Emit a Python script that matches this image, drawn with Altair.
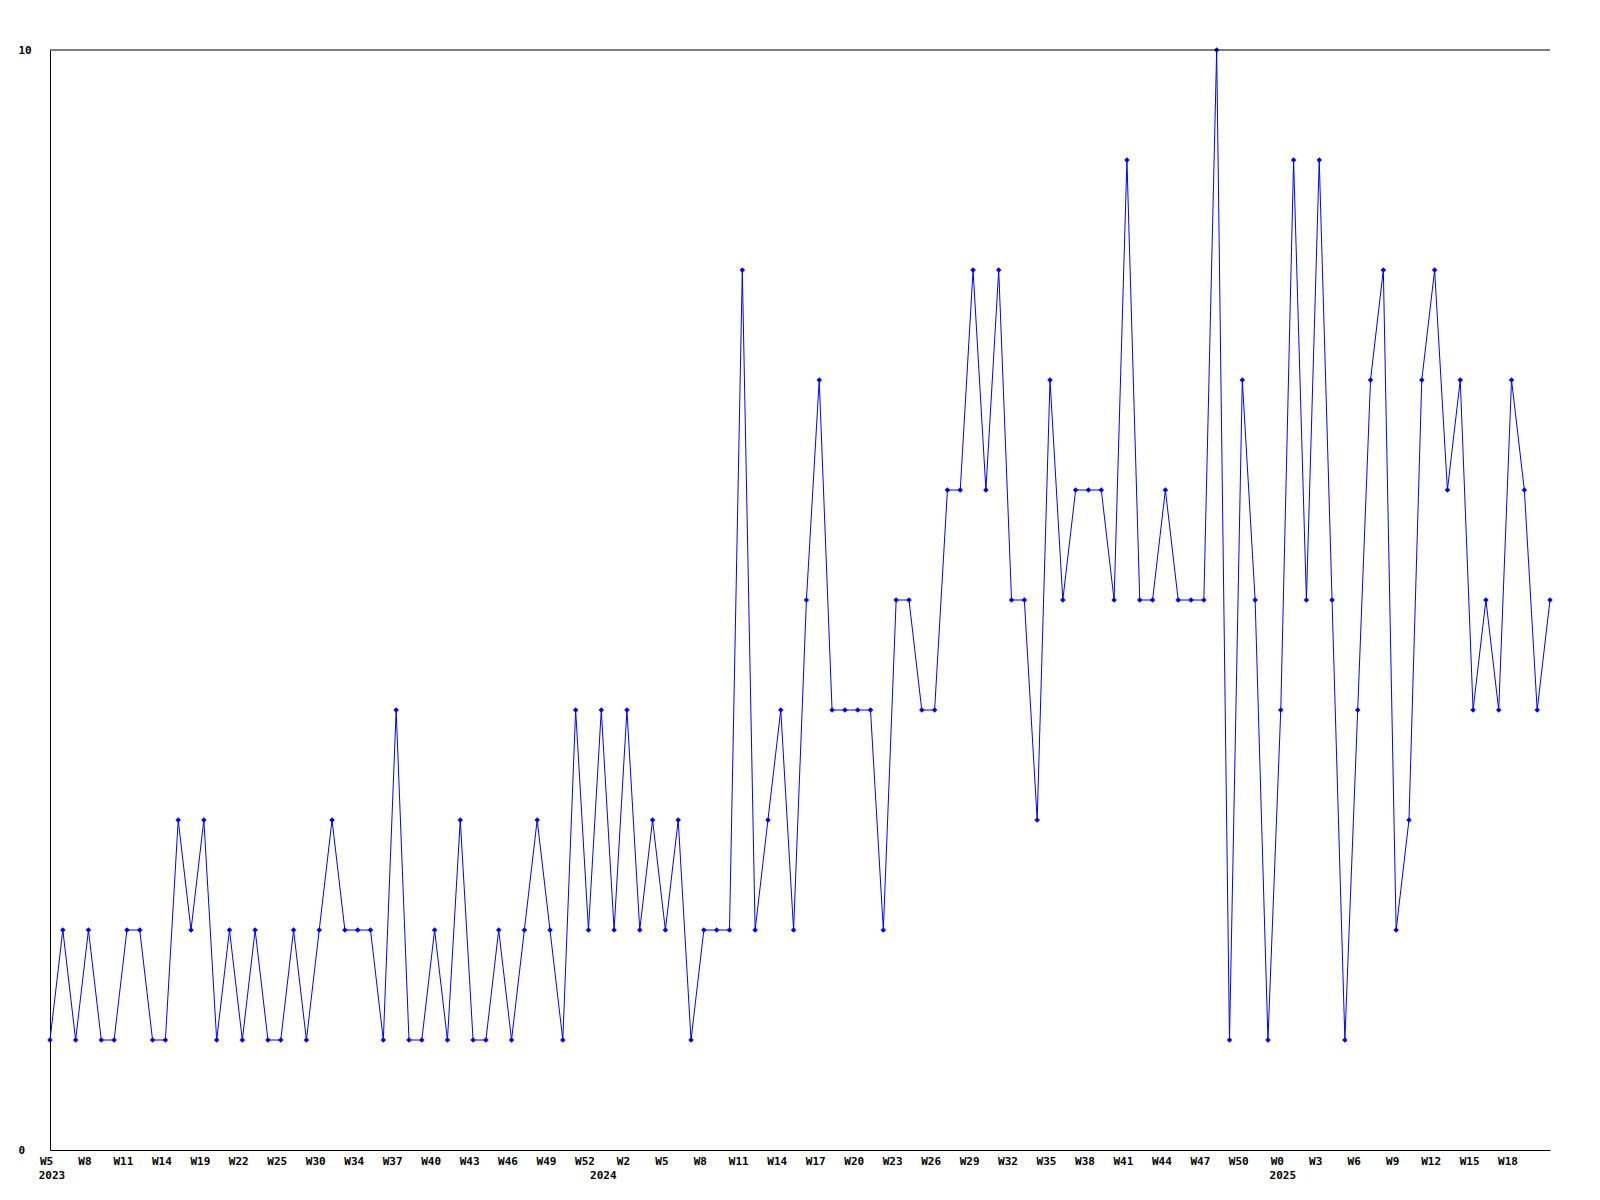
import altair as alt
import pandas as pd

# ---- data ----
weeks_2023 = ["W5", "W6", "W7", "W8", "W9", "W10", "W11", "W12", "W13", "W14", "W15", "W17",
              "W19", "W20", "W21", "W22", "W23", "W24", "W25", "W26", "W28", "W30", "W31", "W32",
              "W34", "W35", "W36", "W37", "W38", "W39", "W40", "W41", "W42", "W43", "W44", "W45",
              "W46", "W47", "W48", "W49", "W50", "W51", "W52"]
values_2023 = [1, 2, 1, 2, 1, 1, 2, 2, 1, 1,
               3, 2, 3, 1, 2, 1, 2, 1, 1, 2,
               1, 2, 3, 2, 2, 2, 1, 4, 1, 1,
               2, 1, 3, 1, 1, 2, 1, 2, 3, 2,
               1, 4, 2]

weeks_2024 = ["W%d" % w for w in range(0, 53)]
values_2024 = [4, 2, 4, 2, 3, 2, 3,
               1, 2, 2, 2, 8, 2, 3, 4, 2, 5,
               7, 4, 4, 4, 4, 2, 5, 5, 4, 4,
               6, 6, 8, 6, 8, 5, 5, 3, 7, 5,
               6, 6, 6, 5, 9, 5, 5, 6, 5, 5,
               5, 10, 1, 7, 5, 1]

weeks_2025 = ["W%d" % w for w in range(0, 22)]
values_2025 = [4, 9, 5, 9, 5, 1, 4, 7, 8, 2, 3, 7, 8, 6, 7, 4, 5, 4, 7, 6, 4, 5]

years = ["2023", "2024", "2025"]
y_tick_values = [0, 10]

# ---- build table ----
rows = []
for yr, wk, vals in zip(years, [weeks_2023, weeks_2024, weeks_2025],
                        [values_2023, values_2024, values_2025]):
    for w, v in zip(wk, vals):
        rows.append({"key": yr + "|" + w, "week": w, "year": yr, "value": v})
df = pd.DataFrame(rows)
keys = list(df["key"])
tick_keys = keys[:-1:3]   # every third week is labelled, last point unlabelled

year_df = pd.DataFrame({
    "key": [yr + "|" + wk[0] for yr, wk in zip(years, [weeks_2023, weeks_2024, weeks_2025])],
    "year": years,
})

FONT = "DejaVu Sans Mono"
W, H = 1500, 1100
BLUE = "#0000ff"

x_enc = alt.X(
    "key:N", sort=keys,
    scale=alt.Scale(type="point", padding=0),
    axis=alt.Axis(
        values=tick_keys, labelExpr="split(datum.value, '|')[1]", labelAngle=0,
        ticks=False, grid=False, title=None, labelOverlap=False,
        labelFont=FONT, labelFontSize=11, labelFontWeight="bold", labelColor="black",
        labelPadding=5, labelBaseline="top", labelOffset=-4,
        domainColor="black", domainWidth=1,
    ),
)
y_enc = alt.Y(
    "value:Q",
    scale=alt.Scale(domain=[0, 10], nice=False, zero=True),
    axis=alt.Axis(
        values=y_tick_values, format="d", ticks=False, grid=False, title=None,
        labelAlign="left", labelPadding=32, labelBaseline="middle", labelFlush=False,
        labelFont=FONT, labelFontSize=11, labelFontWeight="bold", labelColor="black",
        domainColor="black", domainWidth=1,
    ),
)

base = alt.Chart(df)
line = base.mark_line(color=BLUE, strokeWidth=1).encode(x=x_enc, y=y_enc)
pts = base.mark_point(shape="diamond", filled=True, size=30, color=BLUE, opacity=1).encode(
    x=alt.X("key:N", sort=keys), y="value:Q")

top_rule = alt.Chart(pd.DataFrame({"v": [10]})).mark_rule(color="black", strokeWidth=1).encode(
    y=alt.Y("v:Q"))

year_text = alt.Chart(year_df).mark_text(
    font=FONT, fontSize=11, fontWeight="bold", color="black", baseline="top", align="center", dx=2
).encode(x=alt.X("key:N", sort=keys), y=alt.value(H + 20), text="year:N")

chart = alt.layer(line, pts, top_rule, year_text).properties(
    width=W, height=H,
    autosize=alt.AutoSizeParams(type="none"),
    padding={"left": 42, "top": 42, "right": 42, "bottom": 40},
    background="white",
).configure_view(stroke=None)

chart.save("out.html", embed_options={"renderer": "svg", "actions": False})
